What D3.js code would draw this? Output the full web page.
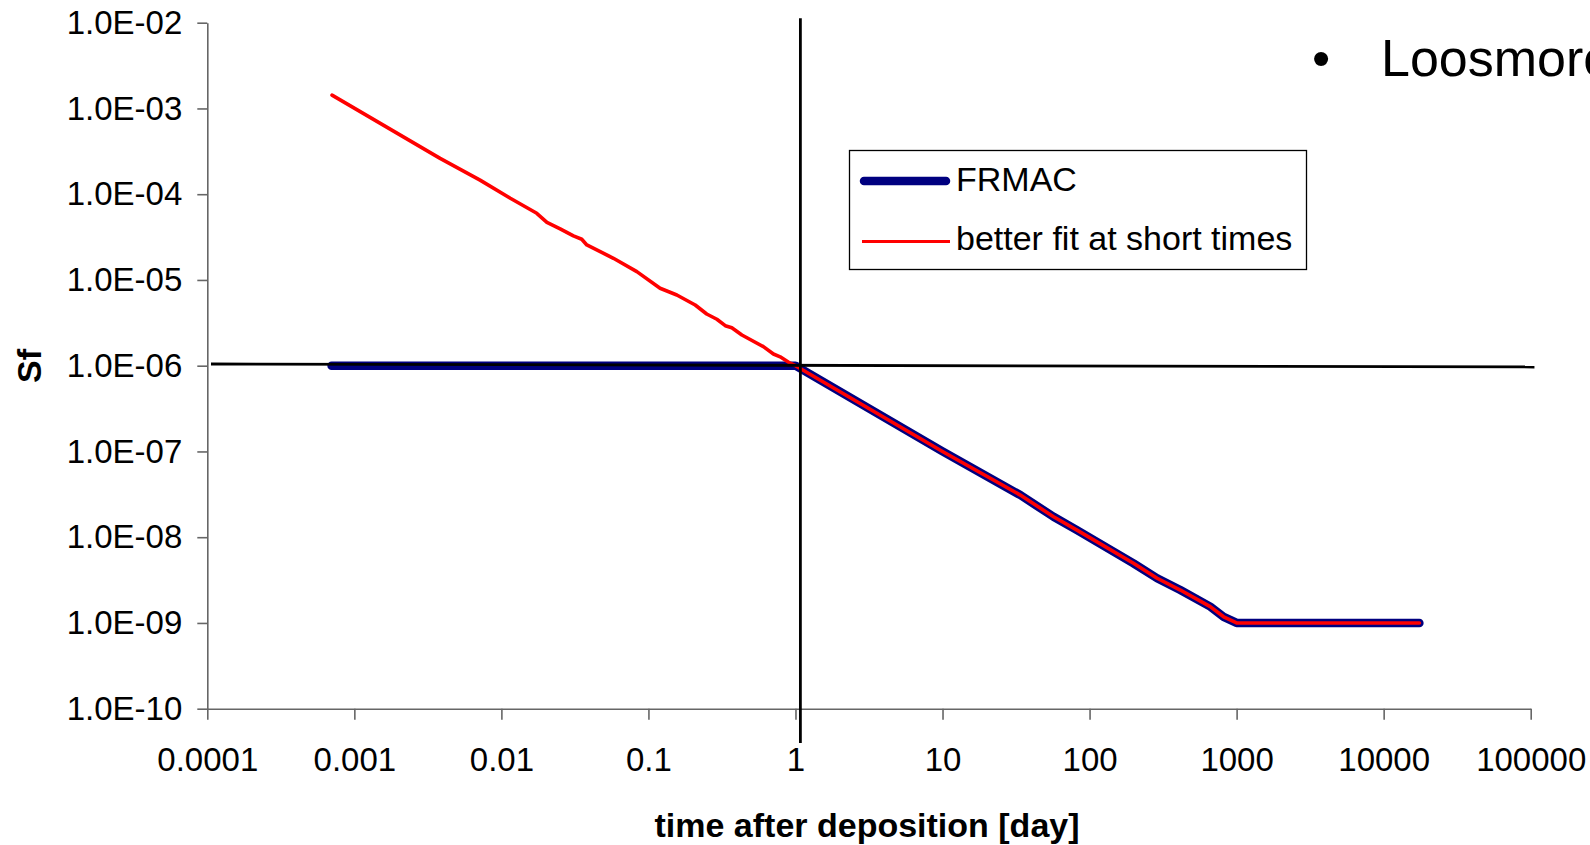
<!DOCTYPE html>
<html>
<head>
<meta charset="utf-8">
<script src="https://cdn.jsdelivr.net/npm/d3@7/dist/d3.min.js"></script>
<style>
  html, body { margin: 0; padding: 0; background: #fff; }
  svg { display: block; }
  text { font-family: "Liberation Sans", Arial, sans-serif; fill: #000; }
</style>
</head>
<body>
<svg id="chart" width="1590" height="845"></svg>
<script>
// Time after deposition [day] and shielding factor Sf for the FRMAC curve
const timeFRMAC = [7.0e-4, 1, 10, 33.8, 56.9, 82.1, 199, 288, 414, 662, 816, 1000, 17500];
const sfFRMAC   = [1e-6, 1e-6, 1.0e-7, 3.1e-8, 1.73e-8, 1.21e-8, 4.96e-9, 3.32e-9, 2.42e-9, 1.55e-9, 1.18e-9, 1.0e-9, 1.0e-9];

// Fit that follows the short-time behaviour, then joins FRMAC after one day
const timeFit = [7.05e-4, 3.83e-3, 7.16e-3, 1.15e-2, 1.74e-2, 2.04e-2, 2.51e-2, 3.09e-2, 3.52e-2, 3.81e-2,
                 5.78e-2, 8.34e-2, 0.120, 0.156, 0.208, 0.249, 0.292, 0.333, 0.369, 0.432, 0.605, 0.708, 0.787, 0.920,
                 1, 10, 33.8, 56.9, 82.1, 199, 288, 414, 662, 816, 1000, 17500];
const sfFit   = [1.43e-3, 2.62e-4, 1.46e-4, 8.96e-5, 5.99e-5, 4.70e-5, 3.95e-5, 3.26e-5, 2.98e-5, 2.56e-5,
                 1.79e-5, 1.25e-5, 8.0e-6, 6.68e-6, 5.10e-6, 4.01e-6, 3.48e-6, 2.93e-6, 2.77e-6, 2.28e-6, 1.67e-6, 1.37e-6, 1.27e-6, 1.07e-6,
                 1e-6, 1.0e-7, 3.1e-8, 1.73e-8, 1.21e-8, 4.96e-9, 3.32e-9, 2.42e-9, 1.55e-9, 1.18e-9, 1.0e-9, 1.0e-9];

// Axis ticks
const xTickValues = [1e-4, 1e-3, 1e-2, 1e-1, 1, 10, 100, 1000, 1e4, 1e5];
const xTickLabels = ["0.0001", "0.001", "0.01", "0.1", "1", "10", "100", "1000", "10000", "100000"];
const yTickValues = [1e-10, 1e-9, 1e-8, 1e-7, 1e-6, 1e-5, 1e-4, 1e-3, 1e-2];
const yTickLabels = ["1.0E-10", "1.0E-09", "1.0E-08", "1.0E-07", "1.0E-06", "1.0E-05", "1.0E-04", "1.0E-03", "1.0E-02"];

// Crosshair marking one day and Sf = 1E-06 (endpoints as [time, Sf])
const markerVertical   = [[1.08, 1.125e-2], [1.08, 3.98e-11]];
const markerHorizontal = [[1.06e-4, 1.047e-6], [1.06e5, 9.66e-7]];

const seriesNames = ["FRMAC", "better fit at short times"];

const svg = d3.select("#chart");
const margin = { left: 207.3, right: 1590 - 1530.7, top: 22.7, bottom: 845 - 708.7 };
const W = 1590, H = 845;

const x = d3.scaleLog().domain([1e-4, 1e5]).range([margin.left, W - margin.right]);
const y = d3.scaleLog().domain([1e-10, 1e-2]).range([H - margin.bottom, margin.top]);

svg.append("rect").attr("width", W).attr("height", H).attr("fill", "#fff");

// Axes
const axisColor = "#666";
const xAxis = svg.append("g")
  .attr("transform", `translate(0,${y(1e-10)})`)
  .call(d3.axisBottom(x).tickValues(xTickValues)
    .tickFormat((d, i) => xTickLabels[i]).tickSize(11).tickPadding(28).tickSizeOuter(0));
const yAxis = svg.append("g")
  .attr("transform", `translate(${x(1e-4)},0)`)
  .call(d3.axisLeft(y).tickValues(yTickValues)
    .tickFormat((d, i) => yTickLabels[i]).tickSize(10).tickPadding(15).tickSizeOuter(0));

[xAxis, yAxis].forEach(g => {
  g.select(".domain").attr("stroke", axisColor).attr("stroke-width", 1.6);
  g.selectAll(".tick line").attr("stroke", axisColor).attr("stroke-width", 1.6);
  g.selectAll(".tick text").attr("font-size", 33).attr("fill", "#000")
    .style("font-family", '"Liberation Sans", Arial, sans-serif');
});

// Axis titles
svg.append("text")
  .attr("x", 867).attr("y", 837)
  .attr("text-anchor", "middle").attr("font-size", 34).attr("font-weight", "bold")
  .text("time after deposition [day]");
svg.append("text")
  .attr("transform", "translate(41,366) rotate(-90)")
  .attr("text-anchor", "middle").attr("font-size", 34).attr("font-weight", "bold")
  .text("Sf");

// Series
const line = d3.line().x(d => x(d[0])).y(d => y(d[1]));
const frmacData = timeFRMAC.map((t, i) => [t, sfFRMAC[i]]);
const fitData = timeFit.map((t, i) => [t, sfFit[i]]);

svg.append("path").datum(frmacData).attr("d", line)
  .attr("fill", "none").attr("stroke", "#000080").attr("stroke-width", 8.5)
  .attr("stroke-linejoin", "round").attr("stroke-linecap", "round");
svg.append("path").datum(fitData).attr("d", line)
  .attr("fill", "none").attr("stroke", "#ff0000").attr("stroke-width", 3.6)
  .attr("stroke-linejoin", "round").attr("stroke-linecap", "round");

// Crosshair
[markerVertical, markerHorizontal].forEach(seg => {
  svg.append("path").datum(seg).attr("d", line)
    .attr("fill", "none").attr("stroke", "#000").attr("stroke-width", 2.8);
});

// Legend
const lg = svg.append("g");
lg.append("rect").attr("x", 849.5).attr("y", 150.5).attr("width", 457).attr("height", 119)
  .attr("fill", "#fff").attr("stroke", "#000").attr("stroke-width", 1.3);
lg.append("line").attr("x1", 864).attr("x2", 946).attr("y1", 181).attr("y2", 181)
  .attr("stroke", "#000080").attr("stroke-width", 8.5).attr("stroke-linecap", "round");
lg.append("line").attr("x1", 862).attr("x2", 950).attr("y1", 241.5).attr("y2", 241.5)
  .attr("stroke", "#ff0000").attr("stroke-width", 3);
lg.append("text").attr("x", 956).attr("y", 190.5).attr("font-size", 34).text(seriesNames[0]);
lg.append("text").attr("x", 956).attr("y", 250).attr("font-size", 34).text(seriesNames[1]);

// Bullet text from the surrounding page, running past the right edge
svg.append("text").attr("x", 1312).attr("y", 76).attr("font-size", 52).text("•");
svg.append("text").attr("x", 1381).attr("y", 76).attr("font-size", 52).text("Loosmore");
</script>
</body>
</html>
